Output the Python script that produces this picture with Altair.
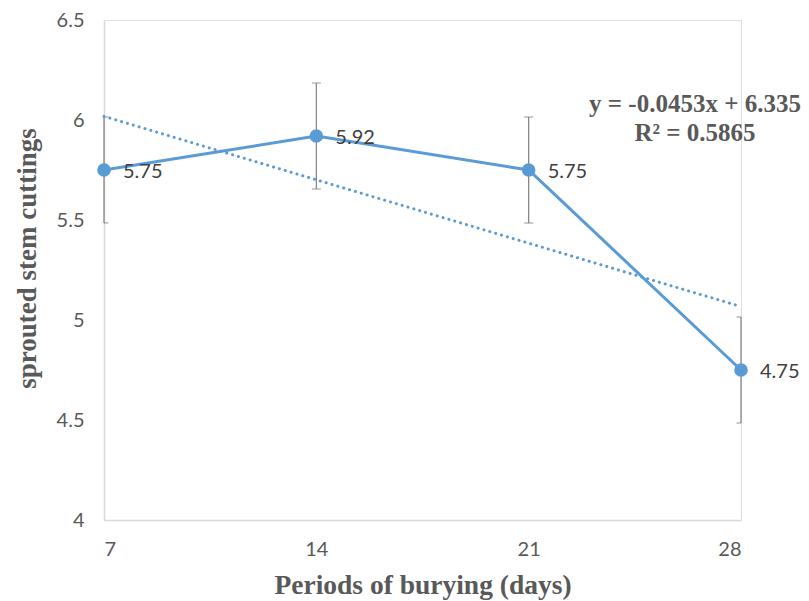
import altair as alt
import pandas as pd

days = [7, 14, 21, 28]
sprouted = [5.75, 5.92, 5.75, 4.75]
err = [0.265, 0.265, 0.265, 0.265]
value_labels = ["5.75", "5.92", "5.75", "4.75"]
y_ticks = [4, 4.5, 5, 5.5, 6, 6.5]
equation_lines = ["y = -0.0453x + 6.335", "R² = 0.5865"]

df = pd.DataFrame({"days": days, "sprouted": sprouted, "err": err, "label": value_labels})

BLUE = "#5b9bd5"
GRAY = "#595959"
LABEL_FONT = "Lato"
TITLE_FONT = "Liberation Serif"

x_enc = alt.X(
    "days:Q",
    scale=alt.Scale(domain=[7, 28], nice=False, zero=False),
    axis=alt.Axis(
        values=days, title="Periods of burying (days)", grid=False, ticks=False,
        domainColor="#d9d9d9", domainWidth=1.5, labelColor=GRAY, labelFont=LABEL_FONT,
        labelFontSize=20, labelPadding=19, titleFont=TITLE_FONT, titleFontSize=27.5,
        titleFontWeight="bold", titleColor=GRAY, titlePadding=12,
    ),
)
y_enc = alt.Y(
    "sprouted:Q",
    scale=alt.Scale(domain=[4, 6.5], nice=False, zero=False),
    axis=alt.Axis(
        values=y_ticks, format=".1~f", title="sprouted stem cuttings", grid=False, ticks=False,
        domainColor="#d9d9d9", domainWidth=1.5, labelColor=GRAY, labelFont=LABEL_FONT,
        labelFontSize=20, labelPadding=20, titleFont=TITLE_FONT, titleFontSize=27,
        titleFontWeight="bold", titleColor=GRAY, titlePadding=15, titleY=238,
    ),
)

base = alt.Chart(df)

err_bars = base.transform_calculate(
    lo="datum.sprouted - datum.err", hi="datum.sprouted + datum.err"
).mark_rule(color="#7f7f7f", strokeWidth=1.2).encode(
    x=x_enc, y=alt.Y("lo:Q", scale=alt.Scale(domain=[4, 6.5], nice=False, zero=False)), y2="hi:Q"
)

caps_hi = base.transform_calculate(hi="datum.sprouted + datum.err").mark_tick(
    orient="horizontal", color="#7f7f7f", size=9, thickness=1.2, clip=True
).encode(x="days:Q", y="hi:Q")
caps_lo = base.transform_calculate(lo="datum.sprouted - datum.err").mark_tick(
    orient="horizontal", color="#7f7f7f", size=9, thickness=1.2, clip=True
).encode(x="days:Q", y="lo:Q")

trend = base.transform_regression("days", "sprouted", method="linear").mark_line(
    color=BLUE, strokeWidth=3, strokeDash=[0.1, 6], strokeCap="round"
).encode(x="days:Q", y="sprouted:Q")

line = base.mark_line(color=BLUE, strokeWidth=3).encode(x=x_enc, y=y_enc)
points = base.mark_point(filled=True, opacity=1, color=BLUE, size=185).encode(x="days:Q", y="sprouted:Q")

labels = base.mark_text(
    align="left", baseline="middle", dx=19, dy=2, font=LABEL_FONT, fontSize=20, color="#404040"
).encode(x="days:Q", y="sprouted:Q", text="label:N")

equation = alt.Chart(pd.DataFrame({"k": [0]})).mark_text(
    text=equation_lines, lineHeight=29, align="center", baseline="middle",
    font=TITLE_FONT, fontSize=25, fontWeight="bold", color=GRAY,
).encode(x=alt.value(591), y=alt.value(84))

chart = alt.layer(err_bars, caps_hi, caps_lo, trend, line, points, labels, equation).properties(
    width=637, height=500,
    autosize=alt.AutoSizeParams(type="none"),
    padding={"left": 96, "top": 12, "right": 60, "bottom": 80},
).configure_view(stroke=None).configure(background="white")

chart.save("out.html", embed_options={"renderer": "svg", "actions": False})
